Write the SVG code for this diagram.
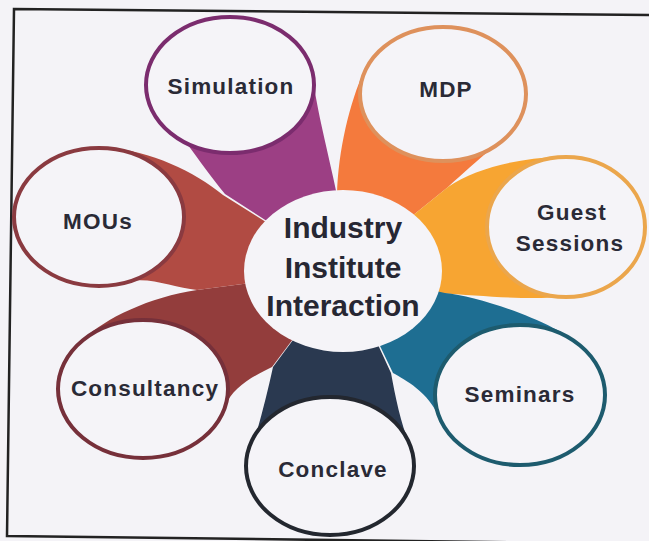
<svg xmlns="http://www.w3.org/2000/svg" width="649" height="541" viewBox="0 0 649 541">
<style>
.bg{fill:#f4f3f7}
.ring{fill:#f5f4f8;stroke-width:4}
.lbl{font-family:"Liberation Sans",Arial,sans-serif;font-weight:bold;font-size:22.5px;letter-spacing:1.2px;fill:#2a2a36;text-anchor:middle}
.ctr{font-family:"Liberation Sans",Arial,sans-serif;font-weight:bold;font-size:30px;fill:#272733;text-anchor:middle}
</style>
<rect class="bg" x="0" y="0" width="649" height="541"/>
<path d="M649,15 L14,9 L7,536 L649,544" fill="none" stroke="#222" stroke-width="2.5"/>
<g id="connectors">
  <path id="tail-simulation" fill="#9c3f84" d="M314,85 C318,115 330,160 338,200 L344,271 L225,194 C212,178 199,160 188,145 L230,85 Z"/>
  <path id="tail-mdp" fill="#f47a3d" d="M364,71 C350,102 338,150 337,195 L344,271 L448,187 C462,174 478,160 491,149 L443,94 Z"/>
  <path id="tail-guest" fill="#f7a532" d="M559,157 C520,158 475,168 448,187 L344,271 L440,293 C480,296 530,300 560,297 L566,227 Z"/>
  <path id="tail-seminars" fill="#1e6e92" d="M585,349 C560,324 480,296 445,293 L344,271 L393,373 C405,380 428,391 440,419 L520,395 Z"/>
  <path id="tail-conclave" fill="#2a3950" d="M257,431 C263,410 268,390 273,367 L344,271 L391,373 C395,395 401,425 409,442 L330,466 Z"/>
  <path id="tail-consultancy" fill="#933d3c" d="M83,340 C105,318 150,297 197,290 L344,271 L272,367 C258,374 232,386 225,407 L143,389 Z"/>
  <path id="tail-mous" fill="#b14b43" d="M107,148 C150,150 195,172 223,195 L344,271 L197,290 C175,288 148,276 128,282 L99,217 Z"/>
</g>
<g id="node-simulation">
  <ellipse class="ring" cx="230" cy="85" rx="84" ry="68" stroke="#7b2c6e"/>
  <text class="lbl" x="231" y="94">Simulation</text>
</g>
<g id="node-mdp">
  <ellipse class="ring" cx="443" cy="94" rx="83" ry="67" stroke="#de915c"/>
  <text class="lbl" x="446" y="97">MDP</text>
</g>
<g id="node-guest-sessions">
  <ellipse class="ring" cx="566" cy="227" rx="79" ry="70" stroke="#eba64c"/>
  <text class="lbl" x="572" y="220">Guest</text>
  <text class="lbl" x="570" y="251">Sessions</text>
</g>
<g id="node-seminars">
  <ellipse class="ring" cx="520" cy="395" rx="85" ry="70" stroke="#1d5b6e"/>
  <text class="lbl" x="520" y="402">Seminars</text>
</g>
<g id="node-conclave">
  <ellipse class="ring" cx="330" cy="466" rx="84" ry="69" stroke="#23272f"/>
  <text class="lbl" x="333" y="477">Conclave</text>
</g>
<g id="node-consultancy">
  <ellipse class="ring" cx="143" cy="389" rx="85" ry="69" stroke="#76303a"/>
  <text class="lbl" x="145" y="396">Consultancy</text>
</g>
<g id="node-mous">
  <ellipse class="ring" cx="99" cy="217" rx="85" ry="69" stroke="#8a3a40"/>
  <text class="lbl" x="98" y="229">MOUs</text>
</g>
<g id="node-center">
  <ellipse cx="343" cy="271" rx="99" ry="81" fill="#f5f4f8"/>
  <text class="ctr" x="343" y="238">Industry</text>
  <text class="ctr" x="343" y="278">Institute</text>
  <text class="ctr" x="343" y="316">Interaction</text>
</g>
</svg>
